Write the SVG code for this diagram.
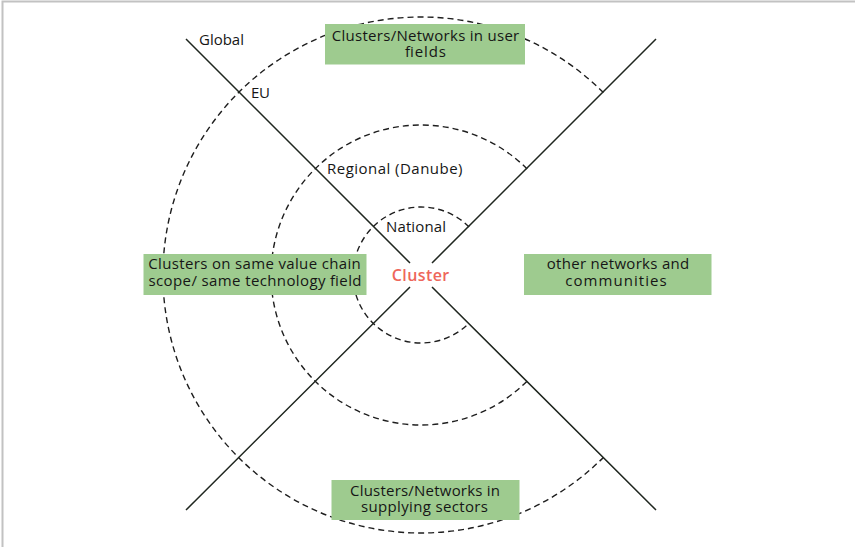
<svg xmlns="http://www.w3.org/2000/svg" width="855" height="547" viewBox="0 0 855 547">
  <style>
    .ring { fill: none; stroke: #1e1e1e; stroke-width: 1.4; stroke-dasharray: 6 4; }
    .axis { fill: none; stroke: #1f261f; stroke-width: 1.5; }
    .box { fill: #9ecb8f; }
    .lbl { font-family: "Open Sans", "Liberation Sans", sans-serif; font-size: 15px; fill: #161616; }
    .mid { text-anchor: middle; }
    .core { font-family: "Open Sans", "Liberation Sans", sans-serif; font-size: 16px; font-weight: 600; fill: #ee665a; text-anchor: middle; }
  </style>
  <rect width="855" height="547" fill="#ffffff"/>
  <!-- outer frame, open at right and bottom -->
  <rect x="2.5" y="1.5" width="900" height="600" fill="none" stroke="#c2c2c2" stroke-width="2"/>

  <!-- dashed scope rings around the cluster, open on the right -->
  <g id="rings">
    <path class="ring" d="M603.4,92.6 A258,258 0 1 0 603.4,457.4"/>
    <path class="ring" d="M527.1,168.9 A150,150 0 1 0 527.1,381.1"/>
    <path class="ring" d="M469.1,226.9 A68,68 0 1 0 469.1,323.1"/>
  </g>

  <!-- crossing axes -->
  <g id="connectors">
    <path class="axis" d="M186,39 L410,263 M432,287 L656,510"/>
    <path class="axis" d="M656,39 L432,263 M410,287 L186,510"/>
  </g>

  <!-- scope labels along the axis -->
  <g id="scope-labels">
    <text class="lbl" x="199" y="45" textLength="45">Global</text>
    <text class="lbl" x="251" y="98" textLength="19">EU</text>
    <text class="lbl" x="327" y="174" textLength="135.5">Regional (Danube)</text>
    <text class="lbl" x="386" y="232" textLength="60">National</text>
  </g>

  <g id="cluster">
    <text class="core" x="420.5" y="281" textLength="57.5">Cluster</text>
  </g>

  <g id="user-fields">
    <rect class="box" x="325" y="24" width="200" height="40.5"/>
    <text class="lbl mid" x="425.5" y="40.5" textLength="187.5">Clusters/Networks in user</text>
    <text class="lbl mid" x="425.5" y="57" textLength="41">fields</text>
  </g>

  <g id="value-chain">
    <rect class="box" x="143.5" y="254" width="223" height="41"/>
    <text class="lbl mid" x="254.5" y="269" textLength="212.5">Clusters on same value chain</text>
    <text class="lbl mid" x="255" y="286" textLength="213">scope/ same technology field</text>
  </g>

  <g id="other-networks">
    <rect class="box" x="524" y="254" width="187.5" height="41"/>
    <text class="lbl mid" x="618" y="269" textLength="142.5">other networks and</text>
    <text class="lbl mid" x="616" y="286" textLength="101.5">communities</text>
  </g>

  <g id="supplying-sectors">
    <rect class="box" x="331.5" y="480" width="188" height="40"/>
    <text class="lbl mid" x="425" y="495.5" textLength="150">Clusters/Networks in</text>
    <text class="lbl mid" x="424.5" y="512" textLength="127">supplying sectors</text>
  </g>
</svg>
